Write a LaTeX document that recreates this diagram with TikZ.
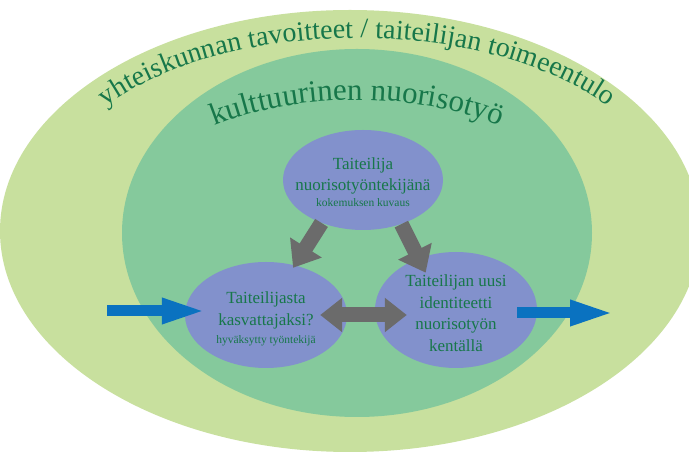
\documentclass[tikz,border=0pt]{standalone}
\usepackage{fontspec}
\setmainfont{Liberation Serif}
\usetikzlibrary{shapes.geometric,arrows.meta,decorations.text}

\definecolor{outergreen}{HTML}{C8E09E}
\definecolor{innergreen}{HTML}{85C99C}
\definecolor{blobblue}{HTML}{8291CC}
\definecolor{arrgray}{HTML}{6B6B6B}
\definecolor{arrblue}{HTML}{0A72C0}
\definecolor{txtgreen}{HTML}{17774A}

\tikzset{
  blob/.style={ellipse,fill=blobblue,inner sep=0pt},
  lbl/.style={text=txtgreen,align=center,font=\fontsize{17}{21.5}\selectfont},
  grayarr/.style={line width=15pt,draw=arrgray,-{Triangle[width=36pt,length=24pt]}},
  bluearr/.style={line width=11pt,draw=arrblue,-{Triangle[width=23pt,length=45pt]}}
}
\newcommand{\smalltxt}{\fontsize{11.5}{14}\selectfont}

\begin{document}
\begin{tikzpicture}[x=1pt,y=1pt]
\useasboundingbox (0,0) rectangle (689,455);
\clip (0,0) rectangle (689,455);
\fill[white] (0,0) rectangle (689,455);

\fill[outergreen] (350,224) ellipse[x radius=350,y radius=221];
\fill[innergreen] (357,222) ellipse[x radius=235,y radius=184];

% titles on arcs
\path[decorate,decoration={text along path,text align=center,
  text={|\color{txtgreen}\fontsize{28}{28}\selectfont|yhteiskunnan tavoitteet / taiteilijan toimeentulo}}]
  (357,252) ++(150:310 and 165) arc[start angle=150,end angle=30,x radius=310,y radius=165];
\path[decorate,decoration={text along path,text align=center,
  text={|\color{txtgreen}\fontsize{31}{31}\selectfont|kulttuurinen nuorisotyö}}]
  (357,225) ++(140:240 and 130) arc[start angle=140,end angle=40,x radius=240,y radius=130];

\path (363,275) node[blob,minimum width=160,minimum height=100](top){};
\path (266,140) node[blob,minimum width=162,minimum height=106](l){};
\path (456,145) node[blob,minimum width=162,minimum height=116](r){};

\path ([yshift=-2pt]top.center) node[lbl](toptxt){Taiteilija\\nuorisotyöntekijänä\\[-6pt]{\smalltxt kokemuksen kuvaus}};
\path ([yshift=-4pt]l.center) node[lbl](ltxt){Taiteilijasta\\kasvattajaksi?\\[-3pt]{\smalltxt hyväksytty työntekijä}};
\path ([yshift=-3pt]r.center) node[lbl](rtxt){Taiteilijan uusi\\identiteetti\\nuorisotyön\\kentällä};

\draw[grayarr,shorten >=-3pt] (top.226) -- (l.60);
\draw[grayarr,shorten >=-16pt] (top.311) -- (r.126);
\draw[grayarr,{Triangle[width=33pt,length=22pt]}-{Triangle[width=33pt,length=22pt]},shorten <=-27pt,shorten >=-32pt] (l.east) -- (l.east -| r.west);

\coordinate (src) at (107,144);
\coordinate (dst) at (615,142);
\draw[bluearr,shorten >=-22pt] (src) -- (src -| l.west);
\draw[bluearr,shorten <=-20pt] (r.east |- dst) -- (dst);

\end{tikzpicture}
\end{document}
